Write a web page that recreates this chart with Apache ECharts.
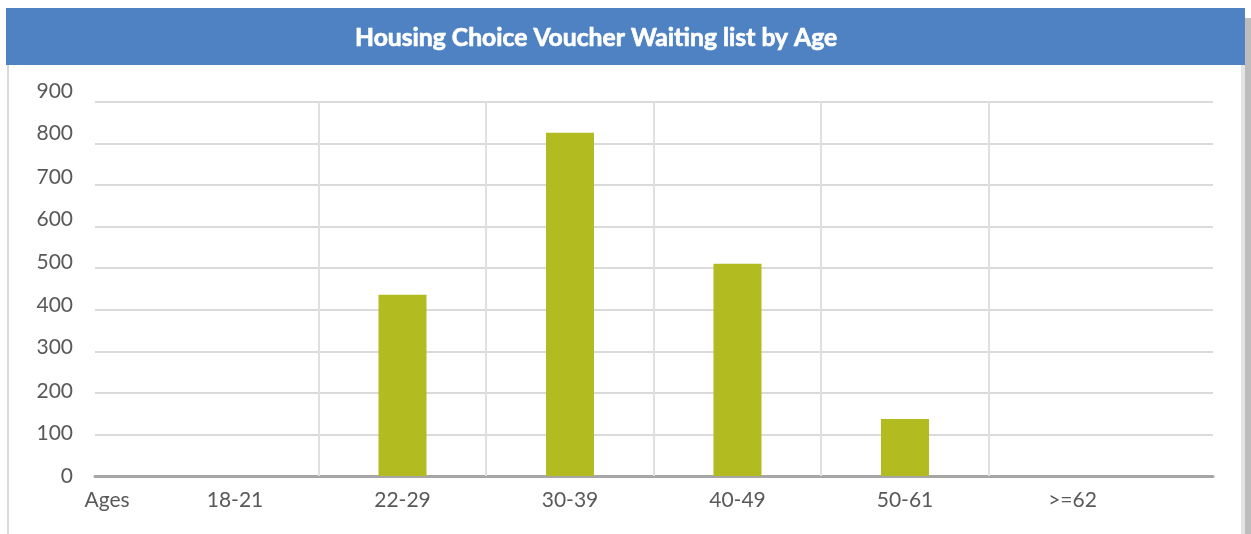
<!DOCTYPE html>
<html><head><meta charset="utf-8">
<script src="https://cdn.jsdelivr.net/npm/echarts@6/dist/echarts.min.js"></script>
<style>html,body{margin:0;padding:0;background:#fff}#c{width:1251px;height:534px}</style>
</head><body><div id="c"></div>
<script>
const titleText = 'Housing Choice Voucher Waiting list by Age';
const axisTitle = 'Ages';
const categories = ['18-21', '22-29', '30-39', '40-49', '50-61', '>=62'];
const values = [0, 436, 826, 511, 137, 0];
const yTicks = [0, 100, 200, 300, 400, 500, 600, 700, 800, 900];

const labelColor = '#595959';
const fontFam = 'Lato, "Open Sans", sans-serif';
const richY = {};
yTicks.forEach(v => {
  const s = Math.round(v / 100 * 1.2);
  richY['t' + v] = { fontSize: 21, color: labelColor, fontFamily: fontFam, padding: [0, 0, s * 2, 0] };
});
const catPos = categories.map((c, i) => i);

const chart = echarts.init(document.getElementById('c'), null, { renderer: 'canvas' });
chart.setOption({
  animation: false,
  backgroundColor: '#ffffff',
  title: {
    text: titleText, left: 350, top: 21, z: 10,
    textStyle: { color: '#ffffff', fontSize: 24.7, fontWeight: 'bold', fontFamily: fontFam,
      textBorderColor: '#ffffff', textBorderWidth: 0.7 }
  },
  graphic: [
    { type: 'rect', z: 0, shape: { x: 1245, y: 18, width: 6, height: 516 }, style: { fill: '#bdbdbd' } },
    { type: 'rect', z: 0, shape: { x: 1241, y: 65, width: 4, height: 469 }, style: { fill: '#e4e4e4' } },
    { type: 'rect', z: 0, shape: { x: 7, y: 65, width: 2, height: 469 }, style: { fill: '#d9d9d9' } },
    { type: 'rect', z: 1, shape: { x: 6, y: 8, width: 1239, height: 57 }, style: { fill: '#4f82c3' } }
  ],
  grid: { left: 95, right: 38, top: 102, bottom: 58, containLabel: false },
  xAxis: {
    type: 'value', min: -0.8358, max: 5.8388,
    splitLine: { show: false },
    axisTick: { show: false },
    axisLine: { show: true, onZero: false, lineStyle: { color: '#a6a6a6', width: 3 } },
    axisLabel: {
      customValues: [-0.764].concat(catPos),
      formatter: v => (v < -0.5 ? axisTitle : categories[Math.round(v)]),
      color: labelColor, fontSize: 21, fontFamily: fontFam, margin: 14,
      showMinLabel: true, showMaxLabel: true
    }
  },
  yAxis: {
    type: 'value', min: 0, max: 900, interval: 100,
    axisLine: { show: false }, axisTick: { show: false },
    splitLine: { show: true, lineStyle: { color: '#dadada', width: 2 } },
    axisLabel: {
      formatter: v => '{t' + v + '|' + v + '}',
      rich: richY, color: labelColor, fontSize: 21, fontFamily: fontFam, margin: 22
    }
  },
  series: [{
    type: 'bar',
    data: values.map((v, i) => [i, v]),
    barWidth: 48,
    itemStyle: { color: '#b2bb1f' },
    z: 3,
    markLine: {
      silent: true,
      symbol: ['none', 'none'],
      label: { show: false },
      lineStyle: { color: '#e0e0e0', width: 2, type: 'solid' },
      emphasis: { disabled: true },
      data: categories.slice(1).map((c, i) => ({ xAxis: i + 0.5 }))
    }
  }]
});
</script>
</body></html>
